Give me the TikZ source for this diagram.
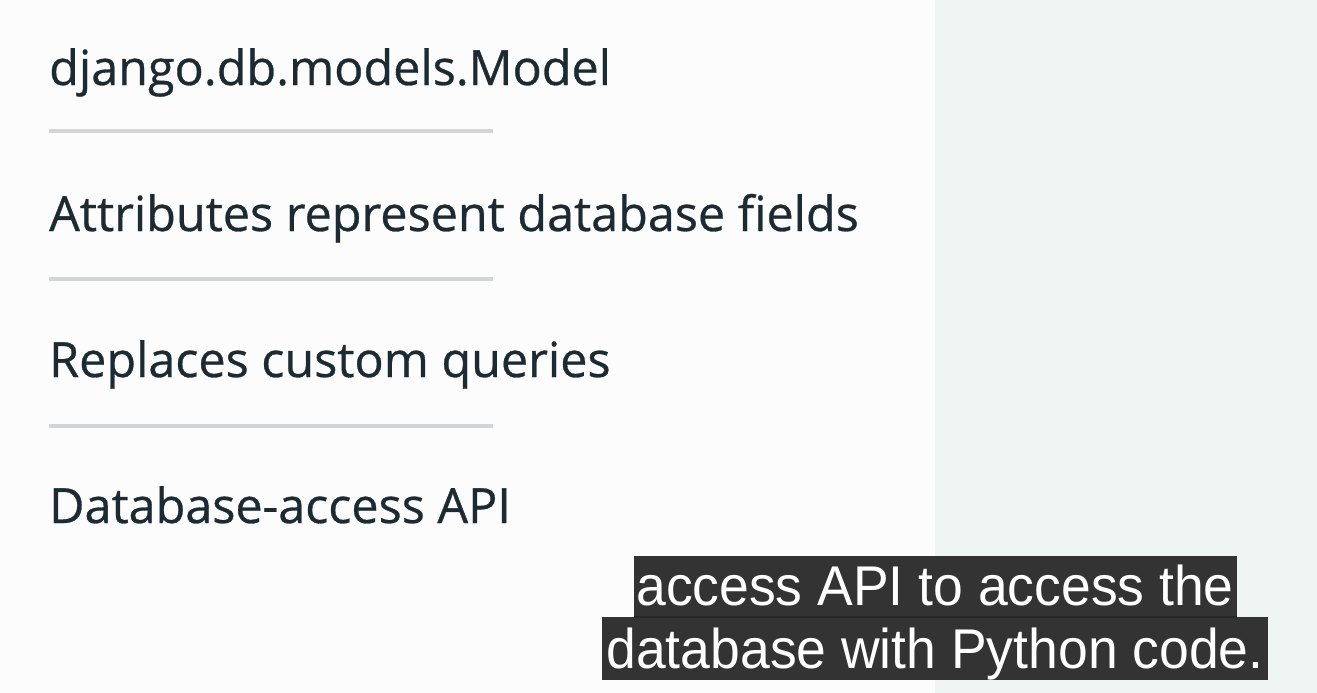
\documentclass[tikz,border=0pt]{standalone}
\usepackage{fontspec}
\setmainfont{Open Sans}
\newfontfamily\itemfont[FakeBold=0.6]{Open Sans}
\newfontfamily\subfont[FakeStretch=0.955]{Liberation Sans}
\definecolor{bgleft}{HTML}{FCFCFC}
\definecolor{bgright}{HTML}{EEF5F3}
\definecolor{ink}{HTML}{1C2B33}
\definecolor{rule}{HTML}{D2D5D7}
\definecolor{capbg}{HTML}{333333}
\begin{document}
\begin{tikzpicture}[x=1pt,y=-1pt,
  item/.style={anchor=base west,inner sep=0pt,text=ink,font=\itemfont\fontsize{48.5}{58}\selectfont},
  sep/.style={draw=rule,line width=4pt},
  capbox/.style={fill=capbg,inner sep=0pt,draw=none},
  captext/.style={anchor=base,inner sep=0pt,text=white,font=\subfont\fontsize{56}{62}\selectfont}]
\fill[bgleft] (0,0) rectangle (935,693);
\fill[bgright] (935,0) rectangle (1317,693);
\useasboundingbox (0,0) rectangle (1317,693);
\node[item] (t1) at (49,85) {django.db.models.Model};
\node[item] (t2) at (49,231) {Attributes represent database fields};
\node[item] (t3) at (49,377) {Replaces custom queries};
\node[item] (t4) at (49,523) {Database-access API};
\coordinate (a1) at (49,131); \coordinate (b1) at (493,131);
\coordinate (a2) at (49,279); \coordinate (b2) at (493,279);
\coordinate (a3) at (49,426); \coordinate (b3) at (493,426);
\draw[sep] (a1) -- (b1);
\draw[sep] (a2) -- (b2);
\draw[sep] (a3) -- (b3);
\node[capbox,minimum width=603pt,minimum height=61pt] (c1) at (935.5,586.5) {};
\node[capbox,minimum width=666pt,minimum height=63pt] (c2) at (935,648.5) {};
\draw[black!85,line width=1.5pt] (c1.south west) -- (c1.south east);
\node[captext] (s1) at (935,605) {access API to access the};
\node[captext] (s2) at (935,668) {database with Python code.};
\end{tikzpicture}
\end{document}
